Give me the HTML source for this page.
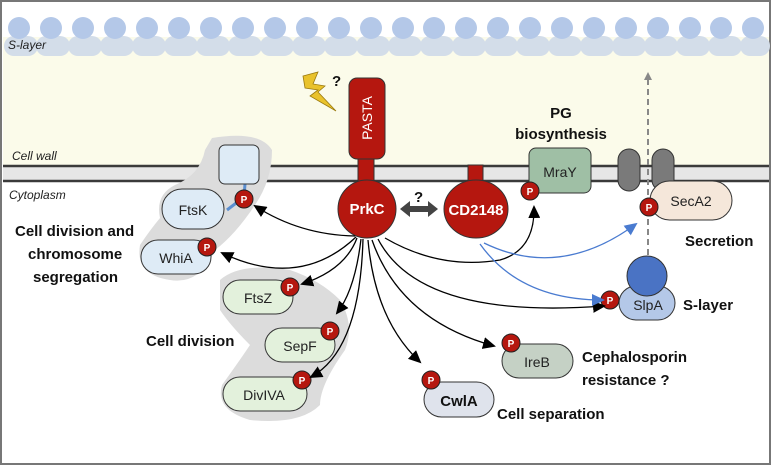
<!DOCTYPE html>
<html><head><meta charset="utf-8"><style>
html,body{margin:0;padding:0;background:#fff}
svg{display:block;font-family:"Liberation Sans",sans-serif}
.b{font-weight:bold;font-size:15px;fill:#111}
.n{font-size:14px;fill:#222}
.pt{font-weight:bold;font-size:10px;fill:#fff}
</style></head><body>
<svg width="772" height="466" viewBox="0 0 772 466" xmlns="http://www.w3.org/2000/svg">
<defs>
<marker id="ah" markerWidth="13" markerHeight="12" refX="11" refY="6" orient="auto" markerUnits="userSpaceOnUse"><path d="M0,0 L13,6 L0,12 z" fill="#000"/></marker>
<marker id="ab" markerWidth="13" markerHeight="12" refX="11" refY="6" orient="auto" markerUnits="userSpaceOnUse"><path d="M0,0 L13,6 L0,12 z" fill="#4a7bd0"/></marker>
<marker id="ag" markerWidth="8" markerHeight="8" refX="6" refY="4" orient="auto" markerUnits="userSpaceOnUse"><path d="M0,0 L8,4 L0,8 z" fill="#888"/></marker>
<g id="P"><circle r="9" fill="#b5170f" stroke="#222" stroke-width="1"/><text y="4" text-anchor="middle" class="pt">P</text></g>
</defs>
<rect x="1" y="1" width="769" height="463" fill="#fff" stroke="#777" stroke-width="2"/>
<rect x="3" y="37" width="766" height="129" fill="#fbfbea"/>
<g fill="#d3dde9">
<rect x="4" y="36" width="34" height="20" rx="10"/><rect x="36" y="36" width="34" height="20" rx="10"/><rect x="68" y="36" width="34" height="20" rx="10"/><rect x="100" y="36" width="34" height="20" rx="10"/><rect x="132" y="36" width="34" height="20" rx="10"/><rect x="164" y="36" width="34" height="20" rx="10"/><rect x="196" y="36" width="34" height="20" rx="10"/><rect x="228" y="36" width="34" height="20" rx="10"/><rect x="260" y="36" width="34" height="20" rx="10"/><rect x="292" y="36" width="34" height="20" rx="10"/><rect x="324" y="36" width="34" height="20" rx="10"/><rect x="356" y="36" width="34" height="20" rx="10"/><rect x="388" y="36" width="34" height="20" rx="10"/><rect x="420" y="36" width="34" height="20" rx="10"/><rect x="452" y="36" width="34" height="20" rx="10"/><rect x="484" y="36" width="34" height="20" rx="10"/><rect x="516" y="36" width="34" height="20" rx="10"/><rect x="548" y="36" width="34" height="20" rx="10"/><rect x="580" y="36" width="34" height="20" rx="10"/><rect x="612" y="36" width="34" height="20" rx="10"/><rect x="644" y="36" width="34" height="20" rx="10"/><rect x="676" y="36" width="34" height="20" rx="10"/><rect x="708" y="36" width="34" height="20" rx="10"/><rect x="740" y="36" width="30" height="20" rx="10"/>
</g>
<g fill="#b4c8e8">
<circle cx="19" cy="28" r="11"/><circle cx="51" cy="28" r="11"/><circle cx="83" cy="28" r="11"/><circle cx="115" cy="28" r="11"/><circle cx="147" cy="28" r="11"/><circle cx="179" cy="28" r="11"/><circle cx="211" cy="28" r="11"/><circle cx="243" cy="28" r="11"/><circle cx="275" cy="28" r="11"/><circle cx="307" cy="28" r="11"/><circle cx="339" cy="28" r="11"/><circle cx="371" cy="28" r="11"/><circle cx="403" cy="28" r="11"/><circle cx="434" cy="28" r="11"/><circle cx="466" cy="28" r="11"/><circle cx="498" cy="28" r="11"/><circle cx="530" cy="28" r="11"/><circle cx="562" cy="28" r="11"/><circle cx="594" cy="28" r="11"/><circle cx="626" cy="28" r="11"/><circle cx="658" cy="28" r="11"/><circle cx="690" cy="28" r="11"/><circle cx="721" cy="28" r="11"/><circle cx="753" cy="28" r="11"/>
</g>
<text x="8" y="49" font-size="12" font-style="italic" fill="#222">S-layer</text>
<text x="12" y="160" font-size="12" font-style="italic" fill="#222">Cell wall</text>
<text x="9" y="199" font-size="12" font-style="italic" fill="#222">Cytoplasm</text>
<rect x="3" y="166" width="766" height="15" fill="#e6e6e6"/>
<line x1="3" y1="166" x2="769" y2="166" stroke="#3a3a3a" stroke-width="2.5"/>
<line x1="3" y1="181" x2="769" y2="181" stroke="#3a3a3a" stroke-width="2.5"/>
<path d="M212,138 Q260,130 272,150 Q272,180 255,205 Q235,235 215,250 Q200,285 170,280 Q135,275 140,245 Q150,230 160,218 Q155,195 175,185 Q200,175 205,150 Z" fill="#dcdcdc"/>
<path d="M220,280 Q240,262 290,270 Q320,280 340,300 Q355,325 345,350 Q320,385 320,405 Q300,425 250,420 Q215,410 222,385 Q240,360 250,345 Q230,325 220,310 Z" fill="#dcdcdc"/>
<line x1="244" y1="197" x2="227" y2="210" stroke="#5b8fd0" stroke-width="3"/>
<line x1="244" y1="197" x2="245" y2="184" stroke="#5b8fd0" stroke-width="3"/>
<rect x="219" y="145" width="40" height="39" rx="6" fill="#deebf6" stroke="#333"/>
<rect x="162" y="189" width="62" height="40" rx="20" fill="#deebf6" stroke="#333"/>
<text x="193" y="215" class="n" text-anchor="middle">FtsK</text>
<use href="#P" x="244" y="199"/>
<rect x="141" y="240" width="70" height="34" rx="17" fill="#deebf6" stroke="#333"/>
<text x="176" y="263" class="n" text-anchor="middle">WhiA</text>
<use href="#P" x="207" y="247"/>
<text x="15" y="236" class="b">Cell division and</text>
<text x="28" y="259" class="b">chromosome</text>
<text x="33" y="282" class="b">segregation</text>
<rect x="223" y="280" width="70" height="34" rx="17" fill="#e3f1dc" stroke="#333"/>
<text x="258" y="303" class="n" text-anchor="middle">FtsZ</text>
<use href="#P" x="290" y="287"/>
<rect x="265" y="328" width="70" height="34" rx="17" fill="#e3f1dc" stroke="#333"/>
<text x="300" y="351" class="n" text-anchor="middle">SepF</text>
<use href="#P" x="330" y="331"/>
<rect x="223" y="377" width="84" height="34" rx="17" fill="#e3f1dc" stroke="#333"/>
<text x="264" y="400" class="n" text-anchor="middle">DivIVA</text>
<use href="#P" x="302" y="380"/>
<text x="146" y="346" class="b">Cell division</text>
<path d="M303,76 L318,72 L313,84 L325,86 L318,92 L336,111 L310,96 L318,90 L305,88 Z" fill="#e9c22c" stroke="#9a7a10" stroke-width="0.8"/>
<text x="332" y="86" font-weight="bold" font-size="15" fill="#111">?</text>
<rect x="358" y="155" width="16" height="30" fill="#b5170f" stroke="#333"/>
<rect x="349" y="78" width="36" height="81" rx="8" fill="#b5170f" stroke="#333"/>
<text transform="translate(372,118) rotate(-90)" text-anchor="middle" font-size="14" fill="#fff">PASTA</text>
<circle cx="367" cy="209" r="29" fill="#b5170f" stroke="#333"/>
<text x="367" y="214" text-anchor="middle" font-weight="bold" font-size="15" fill="#fff">PrkC</text>
<path d="M400,209 L410,201 L410,206 L428,206 L428,201 L438,209 L428,217 L428,212 L410,212 L410,217 Z" fill="#444"/>
<text x="414" y="202" font-weight="bold" font-size="15" fill="#111">?</text>
<rect x="468" y="165" width="15" height="17" fill="#b5170f" stroke="#333"/>
<ellipse cx="476" cy="209" rx="32" ry="29" fill="#b5170f" stroke="#333"/>
<text x="476" y="215" text-anchor="middle" font-weight="bold" font-size="15" fill="#fff">CD2148</text>
<text x="561" y="118" class="b" text-anchor="middle">PG</text>
<text x="561" y="139" class="b" text-anchor="middle">biosynthesis</text>
<rect x="529" y="148" width="62" height="45" rx="7" fill="#9fbfa5" stroke="#333"/>
<text x="560" y="177" class="n" text-anchor="middle">MraY</text>
<use href="#P" x="530" y="191"/>
<rect x="618" y="149" width="22" height="42" rx="11" fill="#7a7a7a" stroke="#333"/>
<rect x="652" y="149" width="22" height="42" rx="11" fill="#7a7a7a" stroke="#333"/>
<line x1="648" y1="305" x2="648" y2="74" stroke="#888" stroke-width="2" stroke-dasharray="6,4" marker-end="url(#ag)"/>
<rect x="650" y="181" width="82" height="39" rx="19.5" fill="#f5e7da" stroke="#333"/>
<text x="691" y="206" class="n" text-anchor="middle">SecA2</text>
<use href="#P" x="649" y="207"/>
<text x="685" y="246" class="b">Secretion</text>
<rect x="619" y="286" width="56" height="34" rx="17" fill="#b4c8e8" stroke="#333"/>
<circle cx="647" cy="276" r="20" fill="#4a73c4" stroke="#333"/>
<text x="648" y="310" class="n" text-anchor="middle">SlpA</text>
<use href="#P" x="610" y="300"/>
<text x="683" y="310" class="b">S-layer</text>
<rect x="502" y="344" width="71" height="34" rx="17" fill="#c5d1c5" stroke="#333"/>
<text x="537" y="367" class="n" text-anchor="middle">IreB</text>
<use href="#P" x="511" y="343"/>
<text x="582" y="362" class="b">Cephalosporin</text>
<text x="582" y="385" class="b">resistance ?</text>
<rect x="424" y="382" width="70" height="35" rx="17.5" fill="#dfe3ec" stroke="#333"/>
<text x="459" y="406" text-anchor="middle" font-weight="bold" font-size="15" fill="#111">CwlA</text>
<use href="#P" x="431" y="380"/>
<text x="497" y="419" class="b">Cell separation</text>
<g fill="none" stroke="#000" stroke-width="1.3" marker-end="url(#ah)">
<path d="M355,236 Q300,235 255,206"/>
<path d="M356,237 Q300,290 222,253"/>
<path d="M357,238 Q345,270 302,284"/>
<path d="M361,239 Q355,290 337,313"/>
<path d="M363,239 Q360,350 311,377"/>
<path d="M368,240 Q375,320 420,362"/>
<path d="M372,240 Q400,320 494,346"/>
<path d="M378,239 Q420,320 604,306"/>
<path d="M385,238 Q440,270 500,260 Q535,250 534,207"/>
</g>
<g fill="none" stroke="#4a7bd0" stroke-width="1.3" marker-end="url(#ab)">
<path d="M484,243 Q560,280 636,224"/>
<path d="M480,244 Q520,300 603,300"/>
</g>
</svg>
</body></html>
